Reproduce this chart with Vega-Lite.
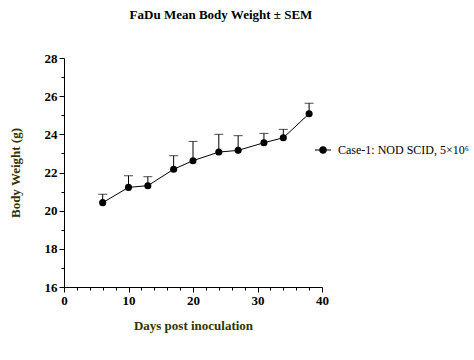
{
  "$schema": "https://vega.github.io/schema/vega-lite/v6.json",
  "width": 258,
  "height": 229,
  "autosize": {"type": "none"},
  "padding": {"left": 64, "top": 58, "right": 152, "bottom": 73},
  "title": {"text": "FaDu Mean Body Weight ± SEM", "font": "Liberation Serif", "fontSize": 13, "fontWeight": "bold", "color": "black", "anchor": "middle", "dx": 28, "offset": 30},
  "config": {"view": {"stroke": null}, "font": "Liberation Serif"},
  "data": {"values": [
    {"day": 6, "mean": 20.42, "upper": 20.86, "series": "Case-1: NOD SCID, 5×10⁶"},
    {"day": 10, "mean": 21.22, "upper": 21.83, "series": "Case-1: NOD SCID, 5×10⁶"},
    {"day": 13, "mean": 21.31, "upper": 21.78, "series": "Case-1: NOD SCID, 5×10⁶"},
    {"day": 17, "mean": 22.17, "upper": 22.88, "series": "Case-1: NOD SCID, 5×10⁶"},
    {"day": 20, "mean": 22.62, "upper": 23.63, "series": "Case-1: NOD SCID, 5×10⁶"},
    {"day": 24, "mean": 23.07, "upper": 24.0, "series": "Case-1: NOD SCID, 5×10⁶"},
    {"day": 27, "mean": 23.16, "upper": 23.93, "series": "Case-1: NOD SCID, 5×10⁶"},
    {"day": 31, "mean": 23.56, "upper": 24.05, "series": "Case-1: NOD SCID, 5×10⁶"},
    {"day": 34, "mean": 23.82, "upper": 24.26, "series": "Case-1: NOD SCID, 5×10⁶"},
    {"day": 38, "mean": 25.08, "upper": 25.63, "series": "Case-1: NOD SCID, 5×10⁶"}
  ]},
  "resolve": {"axis": {"x": "independent", "y": "independent"}},
  "layer": [
    {
      "mark": {"type": "rule", "color": "black", "strokeWidth": 1},
      "encoding": {
        "x": {"field": "day", "type": "quantitative", "scale": {"domain": [0, 40], "nice": false, "zero": false},
          "axis": {"values": [0, 10, 20, 30, 40], "title": "Days post inoculation", "grid": false, "labelFlush": false, "domainColor": "black", "tickColor": "black", "tickSize": 5, "labelFont": "Liberation Serif", "labelFontSize": 13, "labelFontWeight": "bold", "labelColor": "black", "labelPadding": 2, "titleFont": "Liberation Serif", "titleFontSize": 13, "titleFontWeight": "bold", "titleColor": "#333300", "titlePadding": 12, "orient": "bottom"}},
        "y": {"field": "mean", "type": "quantitative", "scale": {"domain": [16, 28], "nice": false, "zero": false},
          "axis": {"values": [16, 18, 20, 22, 24, 26, 28], "title": "Body Weight (g)", "grid": false, "labelFlush": false, "domainColor": "black", "tickColor": "black", "tickSize": 5, "labelFont": "Liberation Serif", "labelFontSize": 13, "labelFontWeight": "bold", "labelColor": "black", "labelPadding": 2, "titleFont": "Liberation Serif", "titleFontSize": 13, "titleFontWeight": "bold", "titleColor": "#333300", "titlePadding": 22, "orient": "left"}},
        "y2": {"field": "upper"}
      }
    },
    {
      "mark": {"type": "tick", "orient": "horizontal", "color": "black", "size": 9, "thickness": 1},
      "encoding": {
        "x": {"field": "day", "type": "quantitative", "axis": {"values": [2, 4, 6, 8, 12, 14, 16, 18, 22, 24, 26, 28, 32, 34, 36, 38], "labels": false, "domain": false, "grid": false, "title": null, "tickSize": 3, "tickColor": "black", "orient": "bottom"}},
        "y": {"field": "upper", "type": "quantitative", "axis": {"values": [17, 19, 21, 23, 25, 27], "labels": false, "domain": false, "grid": false, "title": null, "tickSize": 3, "tickColor": "black", "orient": "left"}}
      }
    },
    {
      "mark": {"type": "line", "strokeWidth": 1},
      "encoding": {
        "x": {"field": "day", "type": "quantitative", "axis": null},
        "y": {"field": "mean", "type": "quantitative", "axis": null},
        "color": {"field": "series", "type": "nominal", "scale": {"range": ["black"]},
          "legend": {"title": null, "orient": "none", "legendX": 250, "legendY": 83, "symbolType": "M-1,0H1M0.4,0A0.4,0.4,0,1,1,-0.4,0A0.4,0.4,0,1,1,0.4,0Z", "symbolSize": 256, "symbolStrokeWidth": 1.2, "symbolFillColor": "black", "symbolStrokeColor": "black", "labelFont": "Liberation Serif", "labelFontSize": 12, "labelColor": "black", "labelOffset": 6, "labelLimit": 300,
            "encode": {"symbols": {"update": {"stroke": {"value": "black"}, "strokeWidth": {"value": 1.2}, "fill": {"value": "black"}, "opacity": {"value": 1}}}}}}
      }
    },
    {
      "mark": {"type": "point", "filled": true, "size": 50, "opacity": 1, "color": "black"},
      "encoding": {
        "x": {"field": "day", "type": "quantitative", "axis": null},
        "y": {"field": "mean", "type": "quantitative", "axis": null}
      }
    }
  ]
}
